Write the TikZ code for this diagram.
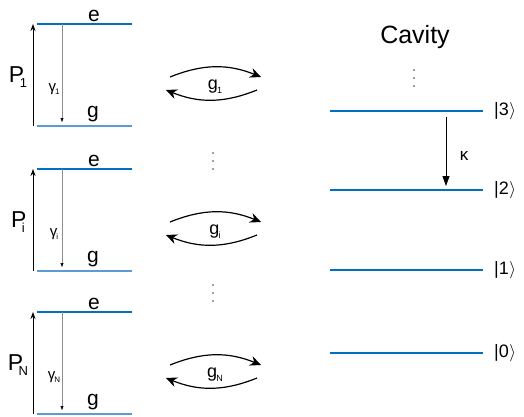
\documentclass[tikz,border=0pt]{standalone}
\usepackage{fontspec}
\setmainfont{Liberation Sans}
\usetikzlibrary{arrows.meta}
\definecolor{elev}{RGB}{0,112,192}
\definecolor{glev}{RGB}{91,155,213}
\begin{document}
\begin{tikzpicture}[x=1pt,y=-1pt,
  elevel/.style={draw=elev,line width=1.2pt},
  glevel/.style={draw=glev,line width=1.4pt},
  cavlevel/.style={draw=elev,line width=1.2pt},
  lbl/.style={font=\fontsize{21}{21}\selectfont,inner sep=0pt},
  pump/.style={line width=0.8pt,-{Stealth[length=7pt,width=5pt]}},
  decay/.style={draw=black!45,line width=0.6pt,-{Triangle[length=4pt,width=3pt,color=black]}},
  couple/.style={line width=1.2pt,-{Stealth[length=11pt,width=10pt]}},
  kappaarr/.style={line width=0.8pt,-{Triangle[length=10pt,width=7pt]}},
  ket/.style={font=\fontsize{18}{18}\selectfont,inner sep=0pt,anchor=west},
  dotc/.style={fill=black!75,draw=none}
]
\useasboundingbox (0,0) rectangle (524,416);
\foreach \k/\c in {1/75,i/220,N/363} {
  \coordinate (eL\k) at (37,\c-51);
  \coordinate (eR\k) at (132,\c-51);
  \coordinate (gL\k) at (37,\c+51);
  \coordinate (gR\k) at (132,\c+51);
  \draw[elevel] (eL\k) -- (eR\k);
  \draw[glevel] (gL\k) -- (gR\k);
  \node[lbl] (elab\k) at (94,\c-59) {e};
  \node[lbl] (glab\k) at (93,\c+39) {g};
  \coordinate (Pb\k) at (33,\c+51);
  \coordinate (Pt\k) at (33,\c-51);
  \draw[pump] (Pb\k) -- (Pt\k);
  \coordinate (Gt\k) at (62,\c-51);
  \coordinate (Gb\k) at (62,\c+47);
  \draw[decay] (Gt\k) -- (Gb\k);
  \node[inner sep=0pt] (P\k) at (18,\c+2) {\fontsize{23}{23}\selectfont P\kern-4.5pt\raisebox{-5pt}{\fontsize{13}{13}\selectfont\k}};
  \node[inner sep=0pt] (gam\k) at (54,\c+14) {\fontsize{15}{15}\selectfont γ\kern-1pt\raisebox{-3.5pt}{\fontsize{8}{8}\selectfont\k}};
  \coordinate (uL\k) at (170,\c+2);
  \coordinate (uR\k) at (261,\c+2);
  \coordinate (lR\k) at (257,\c+15);
  \coordinate (lL\k) at (166,\c+15);
  \draw[couple] (uL\k) to[bend left=22] (uR\k);
  \draw[couple] (lR\k) to[bend left=22] (lL\k);
  \node[inner sep=0pt] (gc\k) at (215,\c+12) {\fontsize{18}{18}\selectfont g\kern-1pt\raisebox{-4pt}{\fontsize{9}{9}\selectfont\k}};
}
\foreach \x/\y in {213/161,213/293,414/78} {
  \fill[dotc] (\x,\y-8) circle (0.9);
  \fill[dotc] (\x,\y) circle (0.9);
  \fill[dotc] (\x,\y+8) circle (0.9);
}
% cavity
\node[inner sep=0pt] (cav) at (415,37) {\fontsize{25}{25}\selectfont Cavity};
\foreach \n/\y in {3/111,2/190,1/270,0/353} {
  \coordinate (cL\n) at (330,\y);
  \coordinate (cR\n) at (483,\y);
  \draw[cavlevel] (cL\n) -- (cR\n);
  \node[ket] (ket\n) at (494,\y) {|\n\kern0.5pt$\rangle$};
}
\coordinate (kt) at (446,117);
\coordinate (kb) at (446,186);
\draw[kappaarr] (kt) -- (kb);
\node[inner sep=0pt] (kap) at (464,156) {\fontsize{17}{17}\selectfont κ};
\end{tikzpicture}
\end{document}
